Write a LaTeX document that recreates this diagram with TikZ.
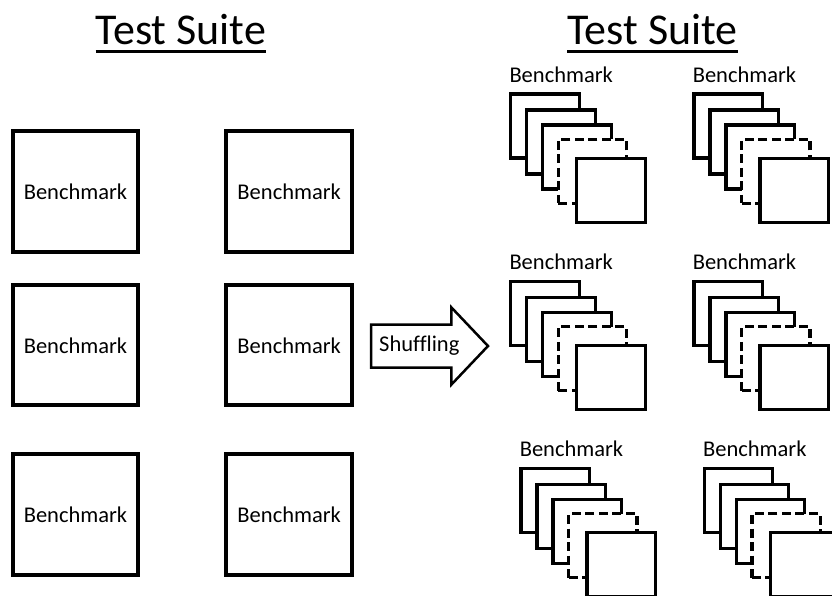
\documentclass[tikz,border=0pt]{standalone}
\usepackage{fontspec}
\setmainfont{Carlito}[Ligatures=CommonOff]
\usetikzlibrary{positioning,shapes.arrows}
\tikzset{
  bigbox/.style={rectangle,draw=black,fill=white,line width=4pt,minimum width=125.5pt,
    minimum height=121pt,inner sep=0pt,outer sep=0pt,font=\fontsize{22.5}{27}\selectfont},
  stackbox/.style={rectangle,draw=black,fill=white,line width=3.3pt,minimum width=68.5pt,
    minimum height=64pt,inner sep=0pt,outer sep=0pt,anchor=north west},
  sqline/.style={solid},
  sqdash/.style={dash pattern=on 9pt off 4.5pt},
  lbl/.style={inner sep=0pt,font=\fontsize{22.5}{27}\selectfont},
  ttl/.style={inner sep=0pt,anchor=base,font=\fontsize{44}{52}\selectfont},
  uline/.style={line width=3pt},
  shufarrow/.style={single arrow,draw=black,fill=white,line width=2.5pt,outer sep=0pt,
    inner xsep=1pt,inner ysep=10.5pt,single arrow head extend=17pt,single arrow tip angle=93,
    minimum height=117pt,font=\fontsize{22.5}{27}\selectfont},
}

\begin{document}
\begin{tikzpicture}[x=1pt,y=-1pt]
  \useasboundingbox (0,0) rectangle (832,595);
  % titles
  \node[ttl] (ttlL) at (181,44) {Test Suite};
  \node[ttl] (ttlR) at (652.5,44) {Test Suite};
  \draw[uline] ([yshift=-7pt]ttlL.base west) -- ([yshift=-7pt]ttlL.base east);
  \draw[uline] ([yshift=-7pt]ttlR.base west) -- ([yshift=-7pt]ttlR.base east);
  % left suite
  \node[bigbox] (bA1) at (75.5,191.5) {Benchmark};
  \node[bigbox] (bB1) at (289.2,191.5) {Benchmark};
  \node[bigbox,minimum height=120pt] (bA2) at (75.5,345.3) {Benchmark};
  \node[bigbox,minimum height=120pt] (bB2) at (289.2,345.3) {Benchmark};
  \node[bigbox] (bA3) at (75.5,514.8) {Benchmark};
  \node[bigbox] (bB3) at (289.2,514.8) {Benchmark};
  % shuffling arrow
  \node[shufarrow,anchor=tail] (shuf) at (371,346) {Shuffling};
  % right suite: stacks of benchmark runs
  \foreach \gx/\gy/\gn in {510.7/94/sA1, 694/94/sB1, 510.7/281.5/sA2, 694/281.5/sB2,
                           521/468.3/sA3, 704.3/468.3/sB3}{
    \node[lbl] (\gn-lbl) at (\gx+50.5,\gy-19.7) {Benchmark};
    \foreach \dx/\dy/\k/\sty in {0/0/1/sqline, 16/16/2/sqline, 32/31/3/sqline,
                                 47.6/45.3/4/sqdash, 66/64.3/5/sqline}
      \node[stackbox,\sty] (\gn-\k) at (\gx+\dx,\gy+\dy) {};
  }
\end{tikzpicture}
\end{document}
